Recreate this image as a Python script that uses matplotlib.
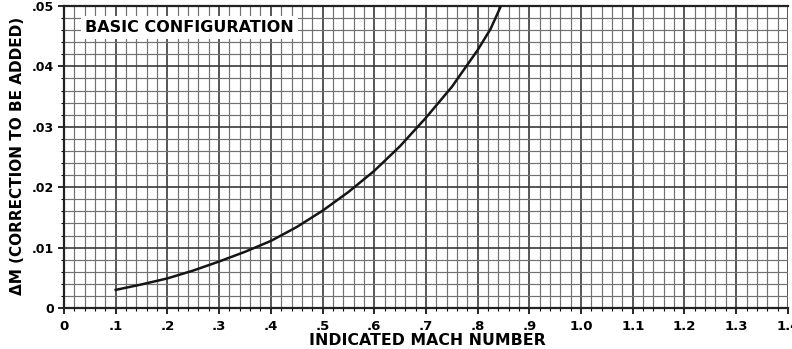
import matplotlib
matplotlib.use("Agg")
import numpy as np
from matplotlib import pyplot as plt
from matplotlib.ticker import MultipleLocator, FixedLocator

# values
mach = [0.10, 0.15, 0.20, 0.25, 0.30, 0.35, 0.40, 0.45, 0.50,
        0.55, 0.60, 0.65, 0.70, 0.75, 0.80, 0.825, 0.845]
delta_m = [0.0030, 0.0039, 0.0049, 0.0062, 0.0077, 0.0093, 0.0111, 0.0134, 0.0161,
           0.0192, 0.0227, 0.0268, 0.0315, 0.0366, 0.0427, 0.0462, 0.0500]

x_ticks = [0, 0.1, 0.2, 0.3, 0.4, 0.5, 0.6, 0.7, 0.8, 0.9, 1.0, 1.1, 1.2, 1.3, 1.4]
x_labels = ["0", ".1", ".2", ".3", ".4", ".5", ".6", ".7", ".8", ".9",
            "1.0", "1.1", "1.2", "1.3", "1.4"]
y_ticks = [0, 0.01, 0.02, 0.03, 0.04, 0.05]
y_labels = ["0", ".01", ".02", ".03", ".04", ".05"]

title = "BASIC CONFIGURATION"
x_title = "INDICATED MACH NUMBER"
y_title = "\u0394M (CORRECTION TO BE ADDED)"

fig = plt.figure(figsize=(7.92, 3.49), dpi=100)
ax = fig.add_axes([0.0808, 0.1175, 0.914, 0.8653])

ax.set_xlim(0, 1.4)
ax.set_ylim(0, 0.05)

# graph paper grid
ax.xaxis.set_major_locator(FixedLocator(x_ticks))
ax.yaxis.set_major_locator(FixedLocator(y_ticks))
ax.xaxis.set_minor_locator(MultipleLocator(0.02))
ax.yaxis.set_minor_locator(MultipleLocator(0.002))
ax.grid(which="minor", color="#707070", linewidth=0.85)
ax.grid(which="major", color="#3a3a3a", linewidth=1.2)
ax.set_axisbelow(True)

ax.plot(mach, delta_m, color="#151515", linewidth=1.8, zorder=3)

for side in ["left", "bottom", "top"]:
    ax.spines[side].set_linewidth(1.6)
    ax.spines[side].set_color("#222222")
ax.spines["right"].set_visible(False)

ax.set_xticklabels(x_labels, fontsize=9.5, fontweight="bold")
ax.set_yticklabels(y_labels, fontsize=9, fontweight="bold")
ax.tick_params(which="major", direction="out", length=4, width=1.2, pad=3)
ax.tick_params(axis="x", which="major", pad=5)
ax.tick_params(which="minor", direction="out", length=2.5, width=0.8)
ax.tick_params(axis="x", which="both", top=False)

ax.text(0.040, 0.0464, title, fontsize=11.5, fontweight="bold", va="center", ha="left",
        bbox=dict(facecolor="white", edgecolor="none", pad=3), zorder=4)

fig.text(0.54, 0.024, x_title, fontsize=11.3, fontweight="bold", ha="center", va="center")
fig.text(0.022, 0.553, y_title, fontsize=11, fontweight="bold", ha="center", va="center",
         rotation=90)

fig.savefig("out.png", dpi=100)
